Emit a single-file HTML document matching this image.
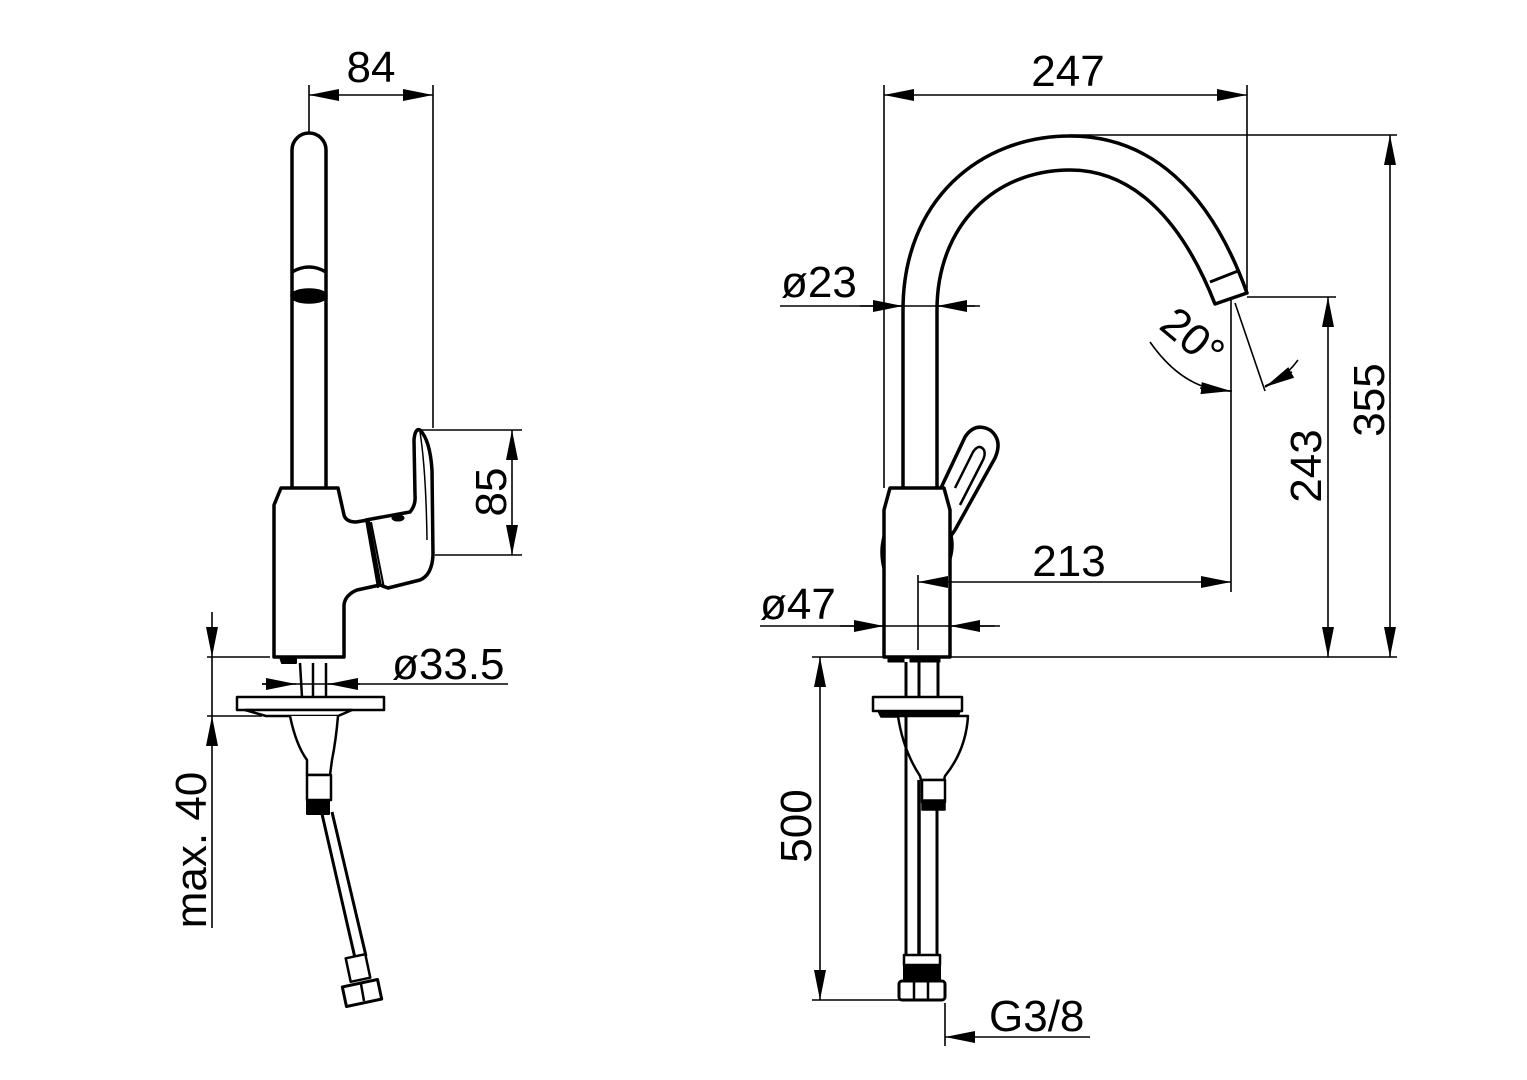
<!DOCTYPE html>
<html><head><meta charset="utf-8"><style>
html,body{margin:0;padding:0;background:#fff;}
svg{display:block;}
text{font-family:"Liberation Sans",Arial,sans-serif;font-size:44px;fill:#000;}
</style></head><body>
<svg width="1527" height="1080" viewBox="0 0 1527 1080" xmlns="http://www.w3.org/2000/svg">
<defs>
<marker id="a" viewBox="0 0 30 12" refX="30" refY="6" markerWidth="30" markerHeight="12" markerUnits="userSpaceOnUse" orient="auto"><path d="M0,0 L30,6 L0,12 z" fill="#000"/></marker>
</defs>
<g fill="none" stroke="#000" stroke-width="1.6">
<line x1="309" y1="85" x2="309" y2="132"/>
<line x1="433" y1="85" x2="433" y2="428"/>
<line x1="340" y1="95" x2="309" y2="95" marker-end="url(#a)"/>
<line x1="400" y1="95" x2="433" y2="95" marker-end="url(#a)"/>
<line x1="340" y1="95" x2="400" y2="95"/>
<line x1="420" y1="430" x2="522" y2="430"/>
<line x1="435" y1="555" x2="522" y2="555"/>
<line x1="512" y1="492" x2="512" y2="430" marker-end="url(#a)"/>
<line x1="512" y1="492" x2="512" y2="555" marker-end="url(#a)"/>
<line x1="262" y1="684" x2="508" y2="684"/>
<line x1="262" y1="684" x2="296" y2="684" marker-end="url(#a)"/>
<line x1="360" y1="684" x2="328" y2="684" marker-end="url(#a)"/>
<line x1="212" y1="612" x2="212" y2="657" marker-end="url(#a)"/>
<line x1="212" y1="928" x2="212" y2="716" marker-end="url(#a)"/>
<line x1="212" y1="657" x2="212" y2="716"/>
<line x1="207" y1="657" x2="270" y2="657"/>
<line x1="207" y1="716" x2="262" y2="716"/>
</g>
<g fill="#fff" stroke="#000" stroke-width="3.5" stroke-linejoin="round">
<path d="M292,488 L292,150 A17,17 0 0 1 326,150 L326,488"/>
<path d="M292,272 Q309,262 326,272" fill="none"/>
<ellipse cx="309" cy="296" rx="17" ry="6" fill="#000"/>
<path d="M366,520 L410,512 Q416,505 415,495 L414,440 Q415,428 420,430 Q430,440 432,470 L433,555 Q432,575 420,580 L388,588 L380,585 Z"/>
<path d="M420,432 Q426,470 427,540" fill="none" stroke-width="1.5"/>
<path d="M281,488 L338,488 L344,515 Q346,522 356,522 L368,520 L380,585 L357,590 Q345,595 344,605 L344,657 L274,657 L274,505 Z"/>
<path d="M366,520 L378,588 M371,522 L384,588" fill="none" stroke-width="2"/>
<ellipse cx="398" cy="518" rx="6" ry="3" fill="#000" stroke-width="1"/>
<path d="M280,657 L282,663 L296,663 L296,657" fill="#000" stroke-width="2"/>
<line x1="300" y1="663" x2="302" y2="697" stroke-width="2.5"/>
<line x1="313" y1="663" x2="313" y2="697" stroke-width="2.5"/>
<line x1="326" y1="663" x2="326" y2="697" stroke-width="2.5"/>
<rect x="237" y="697" width="147" height="13" stroke-width="2.5"/>
<path d="M245,710 L352,710 L338,716 L266,716 Z" stroke-width="2.5"/>
<path d="M290,716 Q296,745 307,760 L307,775 L330,775 L332,760 Q336,740 338,716" stroke-width="2.5"/>
<rect x="307" y="775" width="24" height="25" stroke-width="2.5"/>
<rect x="307" y="800" width="22" height="14" fill="#000" stroke-width="2"/>
<path d="M322,814 L355,958 M332,812 L366,956" fill="none" stroke-width="3"/>
<rect x="348" y="956" width="20" height="24" stroke-width="2.5" transform="rotate(-12 358 968)"/>
<rect x="344" y="983" width="36" height="20" stroke-width="3" transform="rotate(-12 362 993)"/>
<line x1="361" y1="984" x2="364" y2="1001" stroke-width="2.5"/>

<path d="M903,488 L903,310 C903,200 980,136 1070,136 C1150,136 1210,190 1247,293 L1215,304 C1180,215 1130,170 1070,170 C995,170 937,225 937,310 L937,488"/>
<line x1="1210" y1="282" x2="1238" y2="271" stroke-width="3"/>
<path d="M940,490 L965,437 Q975,422 990,430 Q1003,440 995,458 L955,530 L948,540 Z"/>
<path d="M955,488 L973,452 Q979,443 984,450 Q986,455 982,462 L960,505" fill="none" stroke-width="2.5"/>
<path d="M890,488 L944,488 L950,510 L950,657 L884,657 L884,510 Z"/>
<path d="M884,535 Q879,552 884,570" fill="none" stroke-width="2.5"/>
<path d="M950,530 Q955,545 950,560" fill="none" stroke-width="2.5"/>
<rect x="888" y="657" width="16" height="5" fill="#000" stroke-width="1"/>
<rect x="910" y="657" width="30" height="5" fill="#000" stroke-width="1"/>
<line x1="906" y1="662" x2="906" y2="697" stroke-width="3"/>
<line x1="919" y1="662" x2="919" y2="697" stroke-width="3"/>
<line x1="938" y1="662" x2="938" y2="697" stroke-width="3"/>
<rect x="873" y="697" width="89" height="14" stroke-width="2.5"/>
<path d="M878,711 L960,711 L958,717 L881,717 Z" fill="#000" stroke-width="1.5"/>
<path d="M898,716 L968,716 Q966,750 945,776 L944,780 L921,780 L920,776 Q903,750 898,716 Z" stroke-width="2.5"/>
<rect x="922" y="780" width="23" height="22" stroke-width="2.5"/>
<rect x="922" y="800" width="23" height="10" fill="#000" stroke-width="1.5"/>
<line x1="906" y1="717" x2="906" y2="955" stroke-width="3"/>
<line x1="919" y1="780" x2="919" y2="955" stroke-width="3.5"/>
<line x1="937" y1="810" x2="937" y2="955" stroke-width="3"/>
<rect x="904" y="955" width="36" height="10" stroke-width="2.5"/>
<rect x="904" y="965" width="36" height="14" fill="#000" stroke-width="2"/>
<rect x="899" y="981" width="46" height="19" rx="3" stroke-width="3"/>
<line x1="914" y1="981" x2="914" y2="1000" stroke-width="2.5"/>
<line x1="928" y1="981" x2="928" y2="1000" stroke-width="2.5"/>
</g>
<g fill="none" stroke="#000" stroke-width="1.6">
<line x1="884" y1="85" x2="884" y2="488"/>
<line x1="1247" y1="85" x2="1247" y2="293"/>
<line x1="950" y1="95" x2="884" y2="95" marker-end="url(#a)"/>
<line x1="1180" y1="95" x2="1247" y2="95" marker-end="url(#a)"/>
<line x1="950" y1="95" x2="1180" y2="95"/>
<line x1="1070" y1="135" x2="1397" y2="135"/>
<line x1="950" y1="657" x2="1397" y2="657"/>
<line x1="812" y1="657" x2="884" y2="657"/>
<line x1="1390" y1="400" x2="1390" y2="135" marker-end="url(#a)"/>
<line x1="1390" y1="400" x2="1390" y2="657" marker-end="url(#a)"/>
<line x1="1247" y1="297" x2="1336" y2="297"/>
<line x1="1328" y1="470" x2="1328" y2="297" marker-end="url(#a)"/>
<line x1="1328" y1="470" x2="1328" y2="657" marker-end="url(#a)"/>
<line x1="1231" y1="297" x2="1231" y2="592"/>
<line x1="918" y1="575" x2="918" y2="650"/>
<line x1="1000" y1="582" x2="918" y2="582" marker-end="url(#a)"/>
<line x1="1150" y1="582" x2="1231" y2="582" marker-end="url(#a)"/>
<line x1="1000" y1="582" x2="1150" y2="582"/>
<line x1="780" y1="306" x2="980" y2="306"/>
<line x1="860" y1="306" x2="903" y2="306" marker-end="url(#a)"/>
<line x1="975" y1="306" x2="937" y2="306" marker-end="url(#a)"/>
<line x1="760" y1="626" x2="1000" y2="626"/>
<line x1="840" y1="626" x2="884" y2="626" marker-end="url(#a)"/>
<line x1="995" y1="626" x2="950" y2="626" marker-end="url(#a)"/>
<line x1="812" y1="1000" x2="905" y2="1000"/>
<line x1="820" y1="825" x2="820" y2="657" marker-end="url(#a)"/>
<line x1="820" y1="825" x2="820" y2="1000" marker-end="url(#a)"/>
<line x1="945" y1="1003" x2="945" y2="1046"/>
<line x1="1090" y1="1037" x2="945" y2="1037" marker-end="url(#a)"/>
<line x1="1235" y1="303" x2="1265" y2="391"/>
<path d="M1150,342 Q1185,392 1232,391"/>
<path d="M1265,386 Q1285,378 1298,360"/>
<line x1="1200" y1="388" x2="1231" y2="391" marker-end="url(#a)"/>
<line x1="1292" y1="372" x2="1265" y2="387" marker-end="url(#a)"/>
</g>
<text x="371" y="82" text-anchor="middle">84</text>
<text transform="translate(506,492) rotate(-90)" text-anchor="middle">85</text>
<text x="392" y="679">ø33.5</text>
<text transform="translate(206,850) rotate(-90)" text-anchor="middle">max. 40</text>
<text x="1068" y="86" text-anchor="middle">247</text>
<text x="781" y="297">ø23</text>
<text x="760" y="619">ø47</text>
<text x="1069" y="576" text-anchor="middle">213</text>
<text transform="translate(1321,466) rotate(-90)" text-anchor="middle">243</text>
<text transform="translate(1384,400) rotate(-90)" text-anchor="middle">355</text>
<text transform="translate(811,826) rotate(-90)" text-anchor="middle">500</text>
<text x="989" y="1031">G3/8</text>
<text transform="translate(1183,349) rotate(40)" text-anchor="middle">20°</text>
</svg>
</body></html>
